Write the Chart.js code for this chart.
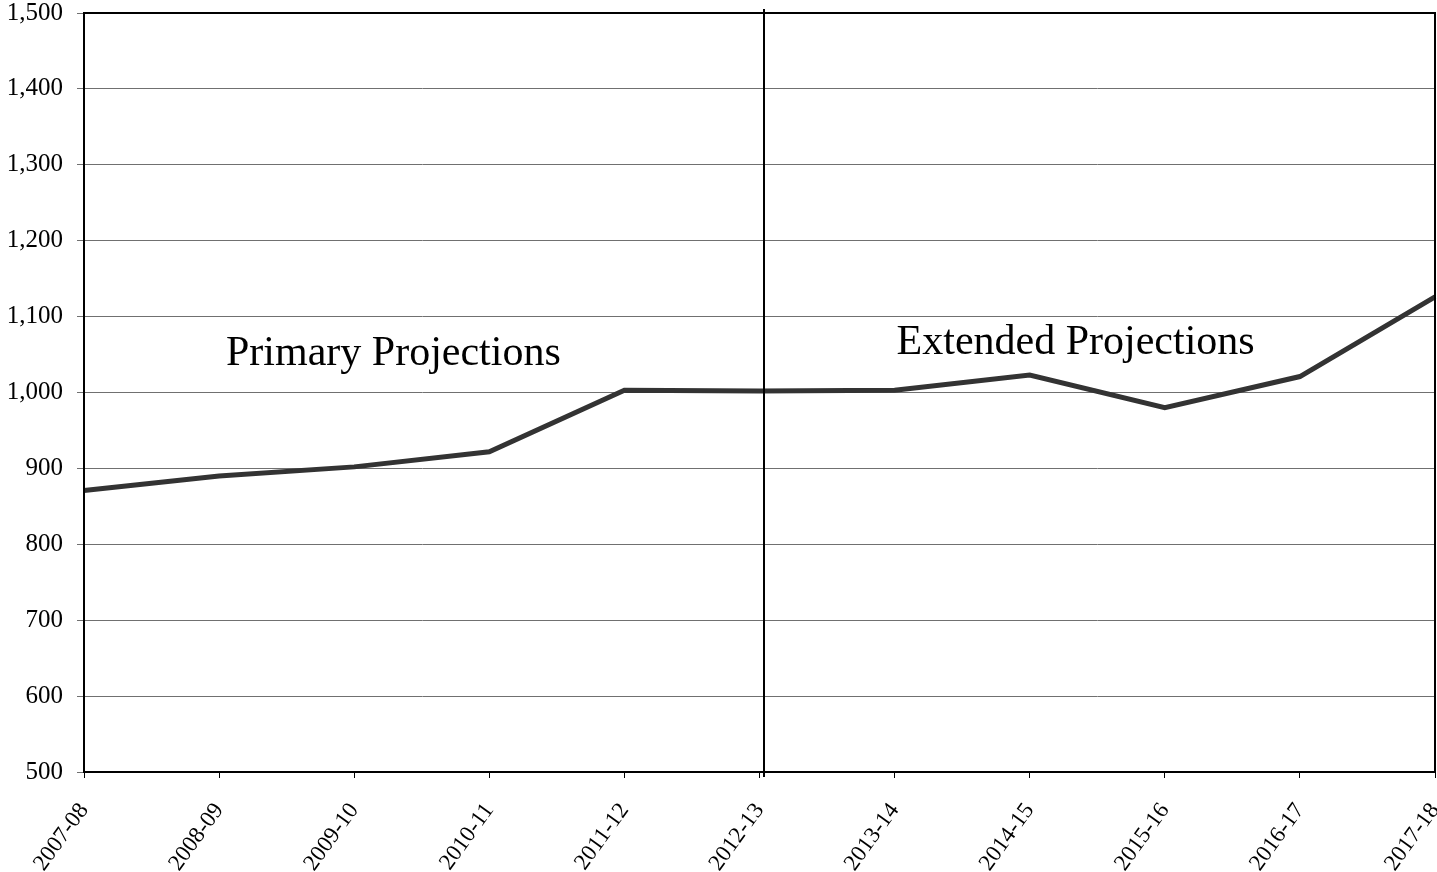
<!DOCTYPE html>
<html>
<head>
<meta charset="utf-8">
<script src="https://cdn.jsdelivr.net/npm/chart.js@4.4.1/dist/chart.umd.min.js"></script>
<style>
  html, body { margin: 0; padding: 0; background: #fff; }
  #wrap { width: 1437px; height: 872px; }
</style>
</head>
<body>
<div id="wrap"><canvas id="myChart" width="1437" height="872"></canvas></div>
<script>
  "use strict";

  const years = [
    "2007-08", "2008-09", "2009-10", "2010-11", "2011-12", "2012-13",
    "2013-14", "2014-15", "2015-16", "2016-17", "2017-18",
  ];
  const values = [871, 890, 902, 922, 1003, 1002, 1003, 1023, 980, 1021, 1126];
  const yTicks = [500, 600, 700, 800, 900, 1000, 1100, 1200, 1300, 1400, 1500];

  // divider between primary and extended periods (just right of 2012-13)
  const splitAt = 5.03;
  const notes = [
    { text: "Primary Projections", at: 2.29, value: 1036 },
    { text: "Extended Projections", at: 7.34, value: 1051 },
  ];

  const serif = "'Liberation Serif', 'Times New Roman', serif";

  const framePlugin = {
    id: "frame",
    afterDatasetsDraw(chart) {
      const { ctx, chartArea, scales } = chart;
      ctx.save();
      // box round the plot
      ctx.strokeStyle = "#000";
      ctx.lineWidth = 2;
      ctx.strokeRect(chartArea.left, chartArea.top, chartArea.right - chartArea.left, chartArea.bottom - chartArea.top);

      // divider line
      const x = Math.round(scales.x.getPixelForValue(splitAt));
      ctx.beginPath();
      ctx.moveTo(x, chartArea.top - 4);
      ctx.lineTo(x, chartArea.bottom + 5);
      ctx.stroke();

      // labels for the two periods
      ctx.fillStyle = "#000";
      ctx.font = "42px " + serif;
      ctx.textAlign = "center";
      ctx.textBaseline = "alphabetic";
      notes.forEach((n) => {
        ctx.fillText(n.text, scales.x.getPixelForValue(n.at), scales.y.getPixelForValue(n.value));
      });
      ctx.restore();
    },
  };

  const ctx = document.getElementById("myChart").getContext("2d");
  const chart = new Chart(ctx, {
    type: "line",
    data: {
      labels: years,
      datasets: [
        {
          label: "Projection",
          data: values,
          borderColor: "#333333",
          borderWidth: 5,
          pointRadius: 0,
          tension: 0,
          fill: false,
        },
      ],
    },
    options: {
      responsive: false,
      animation: false,
      layout: { padding: { top: 13, right: 2, left: 0, bottom: 0 } },
      plugins: {
        legend: { display: false },
        tooltip: { enabled: false },
      },
      scales: {
        x: {
          offset: false,
          grid: { drawOnChartArea: false, drawTicks: true, tickLength: 6, color: "#000" },
          border: { color: "#000", width: 2 },
          ticks: {
            color: "#000",
            font: { family: serif, size: 23 },
            minRotation: 54,
            maxRotation: 54,
            autoSkip: false,
            padding: 20,
          },
          afterFit: (scale) => {
            scale.height = 100;
            scale.paddingLeft = 0;
            scale.paddingRight = 0;
          },
        },
        y: {
          min: 500,
          max: 1500,
          afterBuildTicks: (scale) => {
            scale.ticks = yTicks.map((v) => ({ value: v }));
          },
          grid: { color: "#707070", lineWidth: 1, tickLength: 7 },
          border: { color: "#000", width: 2 },
          ticks: {
            color: "#000",
            font: { family: serif, size: 25 },
            padding: 14,
            callback: (v) => v.toLocaleString("en-US"),
          },
          afterFit: (scale) => {
            scale.width = 84;
            scale.paddingTop = 0;
            scale.paddingBottom = 0;
          },
        },
      },
    },
    plugins: [framePlugin],
  });
</script>
</body>
</html>
